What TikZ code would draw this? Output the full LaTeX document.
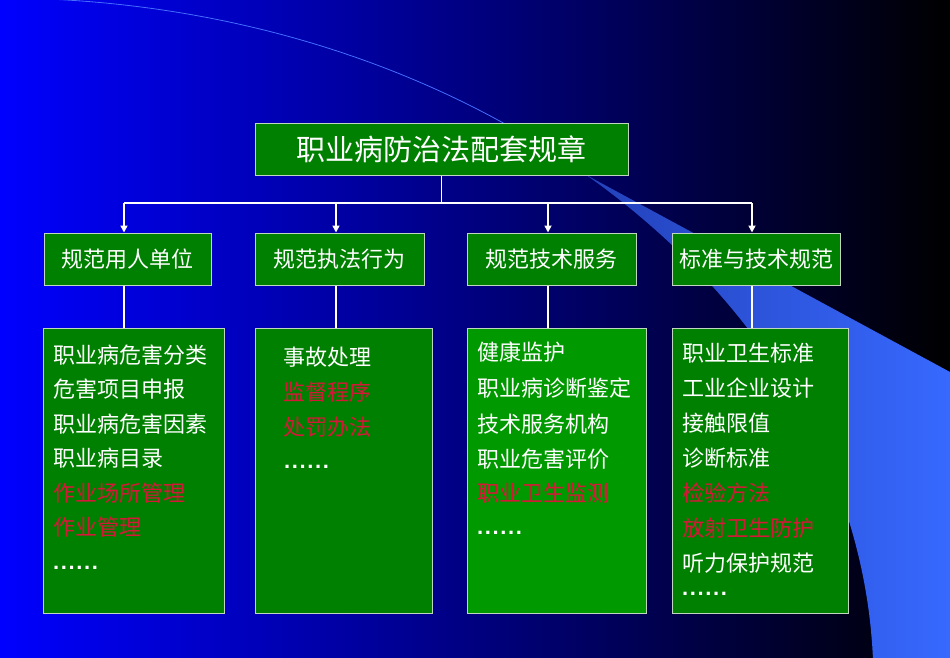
\documentclass[tikz,border=0pt]{standalone}
\usepackage{fontspec}
\setmainfont{Liberation Sans}
\newfontfamily\cjk{Noto Sans CJK SC}
\usetikzlibrary{arrows.meta}
\definecolor{boxgreen}{RGB}{0,128,0}
\definecolor{boxgreenb}{RGB}{0,153,0}
\definecolor{edgec}{RGB}{190,215,190}
\definecolor{redtxt}{RGB}{214,24,56}
\definecolor{arcblue}{RGB}{70,110,255}
\definecolor{bandL}{RGB}{35,65,185}
\definecolor{bandR}{RGB}{55,105,255}
\newcommand\mysixdots{.\kern1.6pt.\kern1.6pt.\kern1.6pt.\kern1.6pt.\kern1.6pt.}
\begin{document}
\begin{tikzpicture}[x=1pt,y=-1pt,
  gbox/.style={draw=edgec,line width=1pt,fill=boxgreen,inner sep=0pt,text=white},
  lvtwo/.style={gbox,minimum height=52pt,font=\cjk\fontsize{22}{26}\selectfont},
  lvthree/.style={gbox,minimum height=285pt},
  conn/.style={draw=white,line width=1.6pt},
  arr/.style={conn,-{Triangle[width=7pt,length=7pt]}},
  ln/.style={anchor=base west,inner sep=0pt,font=\cjk\fontsize{22}{26}\selectfont},
  dotsline/.style={anchor=base west,inner sep=0pt,font=\bfseries\fontsize{22}{26}\selectfont,text=white}
]
\useasboundingbox (0,0) rectangle (950,658);
\shade[left color=blue,right color=black] (0,0) rectangle (950,658);
% decorative band
\shade[left color=bandL,right color=bandR] (950,372) -- (950,658) -- plot[domain=2.01:47.84,samples=80] ({873.5*cos(\x)},{682-684*sin(\x)}) -- cycle;
\draw[arcblue,line width=0.8pt] plot[domain=47.84:90,samples=80] ({873.5*cos(\x)},{682-684*sin(\x)});

% top box
\node[gbox,minimum width=373pt,minimum height=51pt,font=\cjk\fontsize{29}{34}\selectfont] (top) at (441.5,149.5) {职业病防治法配套规章};

% level 2
\node[lvtwo,minimum width=167pt] (b1) at (127.5,259) {规范用人单位};
\node[lvtwo,minimum width=169pt] (b2) at (339.5,259) {规范执法行为};
\node[lvtwo,minimum width=169pt] (b3) at (551.5,259) {规范技术服务};
\node[lvtwo,minimum width=168pt] (b4) at (756,259) {标准与技术规范};

% level 3
\node[lvthree,minimum width=181pt] (d1) at (133.5,470.5) {};
\node[lvthree,minimum width=177pt] (d2) at (343.5,470.5) {};
\node[lvthree,minimum width=179pt,fill=boxgreenb] (d3) at (556.5,470.5) {};
\node[lvthree,minimum width=176pt] (d4) at (760,470.5) {};

% connectors
\coordinate (a1) at (124,203);
\coordinate (a2) at (336,203);
\coordinate (a3) at (548,203);
\coordinate (a4) at (752,203);
\draw[conn] (top.south) -- (top.south |- a1);
\draw[conn] (a1) -- (a4);
\foreach \k in {1,2,3,4}{
  \draw[arr] (a\k) -- (a\k |- b\k.north);
  \draw[conn] (a\k |- b\k.south) -- (a\k |- d\k.north);
}

% box 1 text
\foreach \t/\yy/\c [count=\i] in {职业病危害分类/363/white,危害项目申报/397.5/white,职业病危害因素/432/white,职业病目录/466.5/white,作业场所管理/501/redtxt,作业管理/535.5/redtxt}
  \node[ln,text=\c] (pa\i) at (53,\yy) {\t};
\node[dotsline] (qa) at (53,569.5) {\mysixdots};

% box 2 text
\foreach \t/\yy/\c [count=\i] in {事故处理/365/white,监督程序/400/redtxt,处罚办法/435/redtxt}
  \node[ln,text=\c] (pb\i) at (283,\yy) {\t};
\node[dotsline] (qb) at (284,468.5) {\mysixdots};

% box 3 text
\foreach \t/\yy/\c [count=\i] in {健康监护/360.5/white,职业病诊断鉴定/396.5/white,技术服务机构/432.5/white,职业危害评价/467.5/white,职业卫生监测/501/redtxt}
  \node[ln,text=\c] (pc\i) at (477,\yy) {\t};
\node[dotsline] (qc) at (477,534.5) {\mysixdots};

% box 4 text
\foreach \t/\yy/\c [count=\i] in {职业卫生标准/361/white,工业企业设计/396/white,接触限值/431/white,诊断标准/466/white,检验方法/501/redtxt,放射卫生防护/536/redtxt,听力保护规范/571/white}
  \node[ln,text=\c] (pd\i) at (682,\yy) {\t};
\node[dotsline] (qd) at (682,595.5) {\mysixdots};
\end{tikzpicture}
\end{document}
